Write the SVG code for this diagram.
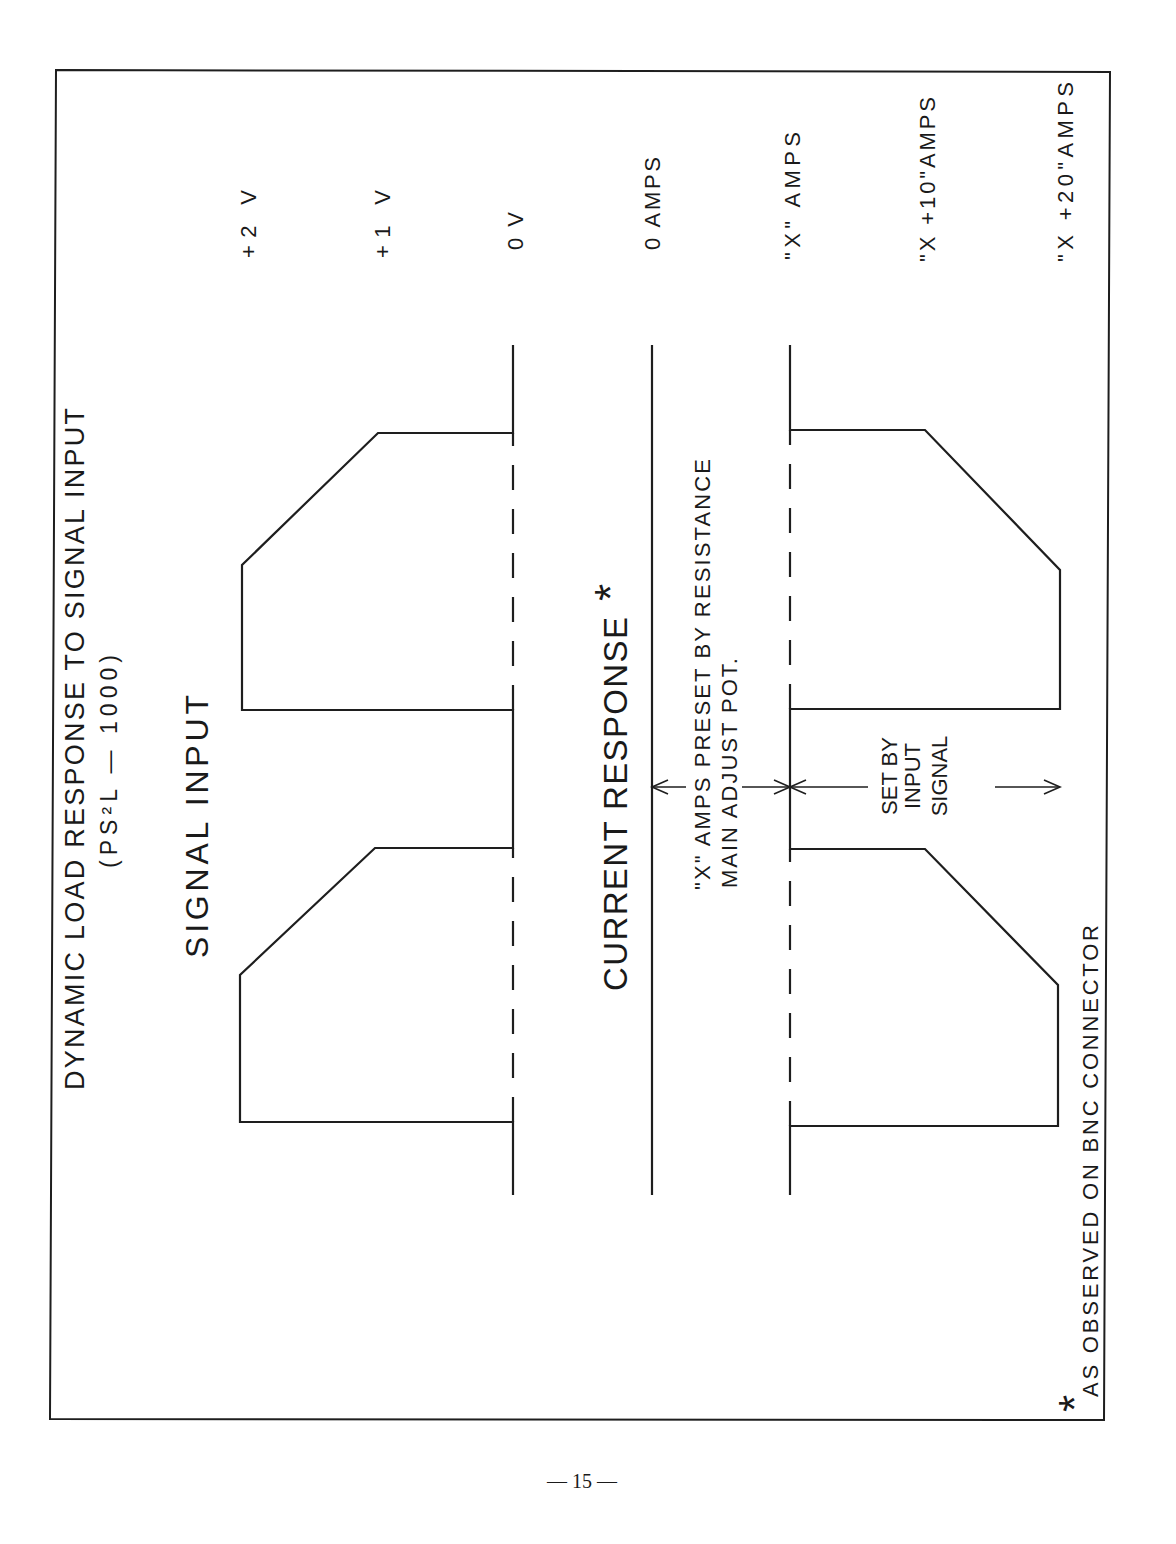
<svg xmlns="http://www.w3.org/2000/svg" width="1176" height="1544" viewBox="0 0 1176 1544">
<style>
.t{font-family:"Liberation Sans","Helvetica",Arial,sans-serif;fill:#1a1a1a}
.w{fill:none;stroke:#1e1e1e;stroke-width:2.2;stroke-linejoin:miter}
.d{fill:none;stroke:#1e1e1e;stroke-width:2.2;stroke-dasharray:25 19}
.a{fill:none;stroke:#1e1e1e;stroke-width:1.6}
</style>
<rect width="1176" height="1544" fill="#fff"/>
<g id="frame"><polygon points="56,70 1110,72 1104,1420 50,1419" fill="none" stroke="#1e1e1e" stroke-width="2"/></g>
<g id="title">
<text class="t" font-size="27" textLength="682" lengthAdjust="spacing" transform="translate(84,1090) rotate(-90)">DYNAMIC LOAD RESPONSE TO SIGNAL INPUT</text>
<text class="t" font-size="23" textLength="213" lengthAdjust="spacing" transform="translate(117,868) rotate(-90)">(PS²L — 1000)</text>
</g>
<g id="signal-input">
<text class="t" font-size="32" textLength="263" lengthAdjust="spacing" transform="translate(208,958) rotate(-90)">SIGNAL INPUT</text>
<path class="w" d="M513,1195 V1122 H240 V975 L375,848 H513 V710 H242 V565 L378,433 H513 V345"/>
</g>
<g id="current-response">
<text class="t" font-size="33" textLength="374" lengthAdjust="spacing" transform="translate(627,991) rotate(-90)">CURRENT RESPONSE</text>
<text class="t" font-size="44" transform="translate(626,601) rotate(-90)">*</text>
<line class="w" x1="652" y1="345" x2="652" y2="1195"/>
<path class="w" d="M790,1195 V1126 H1058 V985 L925,849 H790 V709 H1060 V570 L925,430 H790 V345"/>
</g>
<g id="notes">
<text class="t" font-size="22" textLength="431" lengthAdjust="spacing" transform="translate(710,890) rotate(-90)">"X" AMPS PRESET BY RESISTANCE</text>
<text class="t" font-size="22" textLength="230" lengthAdjust="spacing" transform="translate(737,888) rotate(-90)">MAIN ADJUST POT.</text>
<text class="t" font-size="22" text-anchor="middle" transform="translate(897,776) rotate(-90)">SET BY</text>
<text class="t" font-size="22" text-anchor="middle" transform="translate(920,776) rotate(-90)">INPUT</text>
<text class="t" font-size="22" text-anchor="middle" transform="translate(947,776) rotate(-90)">SIGNAL</text>
</g>
<g id="levels">
<text class="t" font-size="22" textLength="68" lengthAdjust="spacing" transform="translate(256,258) rotate(-90)">+2 V</text>
<text class="t" font-size="22" textLength="68" lengthAdjust="spacing" transform="translate(390,258) rotate(-90)">+1 V</text>
<text class="t" font-size="22" textLength="38" lengthAdjust="spacing" transform="translate(523,250) rotate(-90)">0 V</text>
<text class="t" font-size="22" textLength="93" lengthAdjust="spacing" transform="translate(660,250) rotate(-90)">0 AMPS</text>
<text class="t" font-size="22" textLength="128" lengthAdjust="spacing" transform="translate(800,260) rotate(-90)">"X" AMPS</text>
<text class="t" font-size="22" textLength="165" lengthAdjust="spacing" transform="translate(935,262) rotate(-90)">"X +10"AMPS</text>
<text class="t" font-size="22" textLength="180" lengthAdjust="spacing" transform="translate(1073,262) rotate(-90)">"X +20"AMPS</text>
</g>
<g id="connectors">
<line class="d" x1="513" y1="1122" x2="513" y2="848"/>
<line class="d" x1="513" y1="710" x2="513" y2="433"/>
<line class="d" x1="790" y1="1126" x2="790" y2="849"/>
<line class="d" x1="790" y1="709" x2="790" y2="430"/>
<line class="a" x1="652" y1="787" x2="686" y2="787"/>
<path class="a" d="M668,780 L652,787 L668,794"/>
<line class="a" x1="742" y1="787" x2="868" y2="787"/>
<path class="a" d="M774,780 L790,787 L774,794 M806,780 L790,787 L806,794"/>
<line class="a" x1="995" y1="787" x2="1060" y2="787"/>
<path class="a" d="M1044,780 L1060,787 L1044,794"/>
</g>
<g id="footnote">
<text class="t" font-size="44" transform="translate(1090,1412) rotate(-90)">*</text>
<text class="t" font-size="22" textLength="472" lengthAdjust="spacing" transform="translate(1098,1397) rotate(-90)">AS OBSERVED ON BNC CONNECTOR</text>
</g>
<g id="page"><text font-family="Liberation Serif,serif" font-size="20" text-anchor="middle" x="582" y="1488" fill="#1a1a1a">— 15 —</text></g>
</svg>
